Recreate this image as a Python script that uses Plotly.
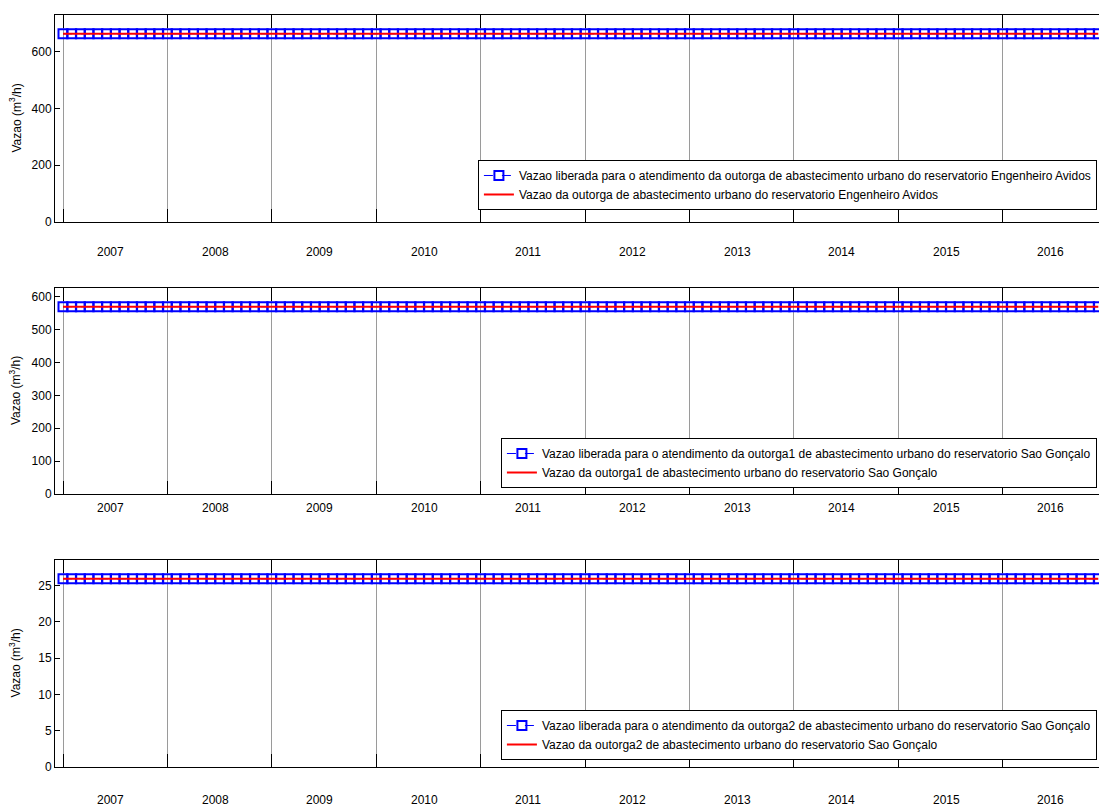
import plotly.graph_objects as go

# Monthly series, Jan 2007 .. Dec 2016
years = [str(y) for y in range(2007, 2017)]
months = list(range(len(years) * 12))

# Released flow vs. granted flow for each reservoir grant (m3/h)
released_avidos = [662] * len(months)
granted_avidos = [662] * len(months)
released_goncalo1 = [570] * len(months)
granted_goncalo1 = [570] * len(months)
released_goncalo2 = [25.9] * len(months)
granted_goncalo2 = [25.9] * len(months)

panels = [
    dict(released=released_avidos, granted=granted_avidos,
         name_rel="Vazao liberada para o atendimento da outorga de abastecimento urbano do reservatorio Engenheiro Avidos",
         name_gr="Vazao da outorga de abastecimento urbano do reservatorio Engenheiro Avidos",
         dtick=200, domain=[0.7247, 1.0], legend_y=0.7407, label_shift=-30),
    dict(released=released_goncalo1, granted=granted_goncalo1,
         name_rel="Vazao liberada para o atendimento da outorga1 de abastecimento urbano do reservatorio Sao Gonçalo",
         name_gr="Vazao da outorga1 de abastecimento urbano do reservatorio Sao Gonçalo",
         dtick=100, domain=[0.363, 0.637], legend_y=0.371, label_shift=-14),
    dict(released=released_goncalo2, granted=granted_goncalo2,
         name_rel="Vazao liberada para o atendimento da outorga2 de abastecimento urbano do reservatorio Sao Gonçalo",
         name_gr="Vazao da outorga2 de abastecimento urbano do reservatorio Sao Gonçalo",
         dtick=5, domain=[0.0, 0.2753], legend_y=0.0093, label_shift=-33),
]

FONT = "Liberation Sans, Arial, sans-serif"
fig = go.Figure()
layout = dict(
    width=1099, height=810,
    margin=dict(l=55, r=0, t=15, b=43),
    paper_bgcolor="white", plot_bgcolor="white",
    font=dict(family=FONT, size=12, color="black"),
    showlegend=True,
)
annotations = []
year_starts = [12 * i for i in range(len(years))]
year_mids = [12 * i + 5.5 for i in range(len(years))]

for i, p in enumerate(panels):
    n = i + 1
    xa = "x" if n == 1 else f"x{n}"
    ya = "y" if n == 1 else f"y{n}"
    leg = "legend" if n == 1 else f"legend{n}"
    top = max(max(p["released"]), max(p["granted"])) * 1.1

    fig.add_trace(go.Scatter(
        x=months, y=p["released"], xaxis=xa, yaxis=ya, legend=leg,
        mode="lines+markers", name=p["name_rel"],
        line=dict(color="#0000ff", width=1, dash="dash"),
        marker=dict(symbol="square-open", size=9, color="#0000ff",
                    line=dict(width=2, color="#0000ff")),
    ))
    fig.add_trace(go.Scatter(
        x=months, y=p["granted"], xaxis=xa, yaxis=ya, legend=leg,
        mode="lines", name=p["name_gr"],
        line=dict(color="#ff0000", width=2),
    ))

    xkey = "xaxis" if n == 1 else f"xaxis{n}"
    ykey = "yaxis" if n == 1 else f"yaxis{n}"
    layout[xkey] = dict(
        domain=[0, 1], anchor=ya, range=[-0.92, 119.08],
        tickmode="array", tickvals=year_starts, showticklabels=False,
        ticks="inside", ticklen=13, tickcolor="black", tickwidth=1,
        showgrid=True, gridcolor="#9a9a9a", gridwidth=1,
        showline=True, linecolor="black", linewidth=1, mirror="ticks",
        zeroline=False,
    )
    layout[ykey] = dict(
        domain=p["domain"], anchor=xa, range=[0, top],
        tick0=0, dtick=p["dtick"],
        ticks="inside", ticklen=5, tickcolor="black",
        showgrid=False, zeroline=False,
        showline=True, linecolor="black", linewidth=1, mirror=False,
        tickfont=dict(size=12),
    )
    # right-hand ticks without an axis line
    layout[f"yaxis{n + 3}"] = dict(
        overlaying=ya, side="right", anchor=xa, range=[0, top],
        tick0=0, dtick=p["dtick"], ticks="inside", ticklen=5,
        tickcolor="black", showticklabels=False, showgrid=False,
        zeroline=False, showline=False,
    )
    layout[leg] = dict(
        x=0.998, y=p["legend_y"], xanchor="right", yanchor="bottom",
        xref="paper", yref="paper",
        bgcolor="white", bordercolor="black", borderwidth=1,
        font=dict(size=12, family=FONT), tracegroupgap=0,
        itemwidth=30,
    )
    for yr, xm in zip(years, year_mids):
        annotations.append(dict(
            x=xm, y=0, xref=xa, yref=f"{ya} domain", text=yr,
            showarrow=False, yanchor="middle", yshift=p["label_shift"],
            font=dict(size=12, family=FONT),
        ))
    annotations.append(dict(
        x=0, y=0.5, xref="paper", yref=f"{ya} domain",
        text="Vazao (m<sup>3</sup>/h)", textangle=-90, showarrow=False,
        xshift=-40, xanchor="center", yanchor="middle",
        font=dict(size=12, family=FONT),
    ))

layout["annotations"] = annotations
fig.update_layout(**layout)
fig.write_html("out.html")
